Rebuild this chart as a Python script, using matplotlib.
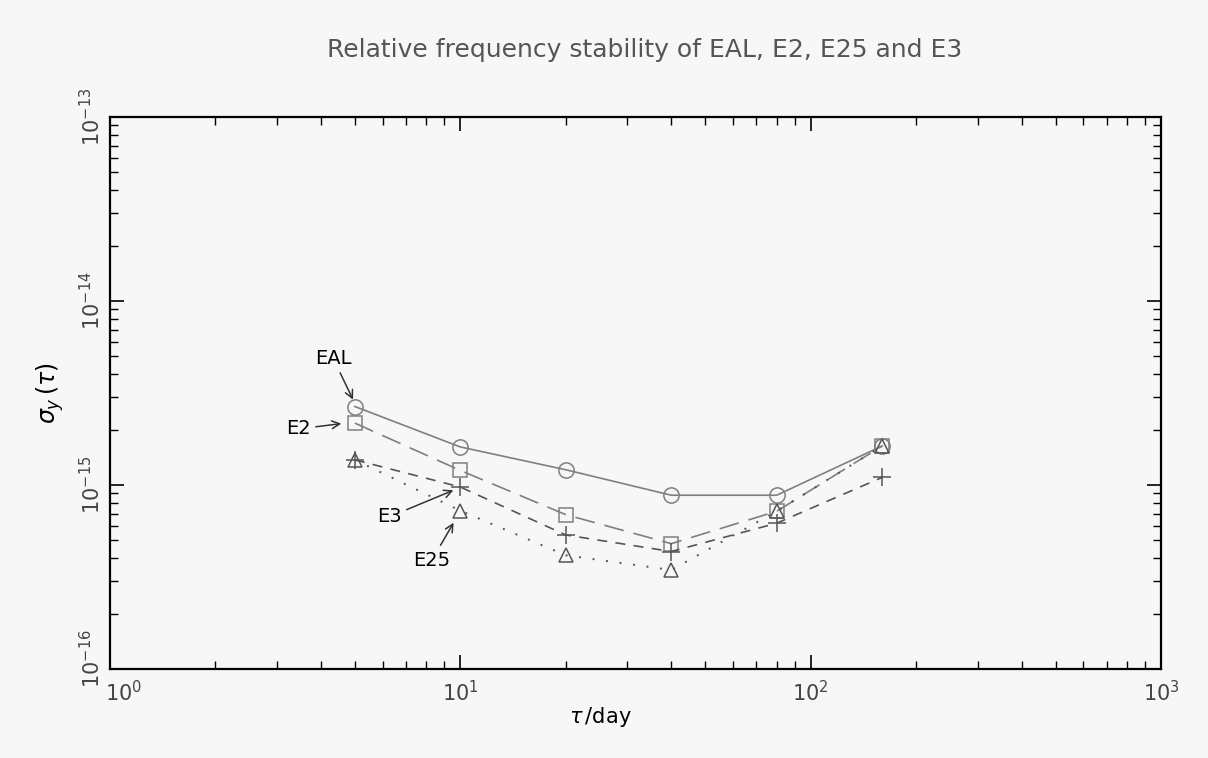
import numpy as np
import matplotlib
matplotlib.use("Agg")
import matplotlib.pyplot as plt
import matplotlib.transforms as mtrans

# averaging times (days)
tau = [5, 10, 20, 40, 80, 160]

# Allan deviation
eal = [2.67e-15, 1.61e-15, 1.21e-15, 8.8e-16, 8.8e-16, 1.63e-15]
e2 = [2.17e-15, 1.20e-15, 6.9e-16, 4.8e-16, 7.2e-16, 1.63e-15]
e3 = [1.37e-15, 9.75e-16, 5.35e-16, 4.35e-16, 6.2e-16, 1.10e-15]
e25 = [1.37e-15, 7.25e-16, 4.15e-16, 3.45e-16, 7.2e-16, 1.63e-15]

xticks = [1, 10, 100, 1000]
xtick_labels = [r"$10^{0}$", r"$10^{1}$", r"$10^{2}$", r"$10^{3}$"]
yticks = [1e-16, 1e-15, 1e-14, 1e-13]
ytick_labels = [r"$10^{-16}$", r"$10^{-15}$", r"$10^{-14}$", r"$10^{-13}$"]

gray = "#7f7f7f"
dark = "#555555"
bg = "#f7f7f7"

fig = plt.figure(figsize=(12.08, 7.58), dpi=100, facecolor=bg)
ax = fig.add_axes([110 / 1208, 1 - 669 / 758, (1161 - 110) / 1208, (669 - 117) / 758])
ax.set_facecolor(bg)

lw = 1.2
ax.plot(tau, eal, color=gray, lw=lw, ls="-", marker="o", ms=11, mfc="none", mec=gray, mew=1.1)
ax.plot(tau, e2, color=gray, lw=lw, ls=(0, (12, 6)), marker="s", ms=9.5, mfc="none", mec=gray, mew=1.1)
ax.plot(tau, e3, color=dark, lw=lw, ls=(0, (6, 5)), marker="+", ms=13, mec=dark, mew=1.1)
ax.plot(tau, e25, color=dark, lw=1.4, ls=(0, (1, 6)), marker="^", ms=10, mfc="none", mec=dark, mew=1.1)

ax.set_xscale("log")
ax.set_yscale("log")
ax.set_xlim(1, 1000)
ax.set_ylim(1e-16, 1e-13)

ax.set_xticks(xticks)
ax.set_xticklabels(xtick_labels, fontsize=15, color="#444444")
ax.set_yticks(yticks)
ax.set_yticklabels(ytick_labels, fontsize=15, color="#444444", rotation=90, va="center")
ax.tick_params(which="major", direction="in", length=10, width=1.2, top=True, right=True)
ax.tick_params(axis="x", which="major", pad=8)
ax.tick_params(axis="y", which="major", pad=4)
ax.tick_params(which="minor", direction="in", length=6, width=1.0, top=True, right=True)
for s in ax.spines.values():
    s.set_linewidth(1.6)

# the corner labels sit a little inward, as in the original
first_x = ax.get_xticklabels()[0]
first_x.set_transform(first_x.get_transform() + mtrans.ScaledTranslation(0.14, 0, fig.dpi_scale_trans))
first_y = ax.get_yticklabels()[0]
first_y.set_transform(first_y.get_transform() + mtrans.ScaledTranslation(0, 0.1, fig.dpi_scale_trans))

ax.set_xlabel(r"$\tau\,$/day", fontsize=15)
ax.xaxis.set_label_coords((600 - 110) / 1051, -0.065)
ax.set_ylabel(r"$\sigma_y\,(\tau)$", fontsize=17)
ax.yaxis.set_label_coords(-0.042, 0.5)

fig.text(645 / 1208, 1 - 50 / 758, "Relative frequency stability of EAL, E2, E25 and E3",
         ha="center", va="center", fontsize=18, color=dark)

# curve labels with arrows
arrow = dict(arrowstyle="->", color="#333333", lw=1.1, shrinkA=2, shrinkB=3)
lab = dict(textcoords="figure pixels", ha="center", va="center", fontsize=14, arrowprops=arrow)
ax.annotate("EAL", xy=(tau[0], eal[0] * 1.04), xytext=(333, 758 - 358), **lab)
ax.annotate("E2", xy=(tau[0] * 0.94, e2[0]), xytext=(298, 758 - 429), **lab)
ax.annotate("E3", xy=(tau[1] * 0.98, e3[1] * 0.98), xytext=(389, 758 - 517), **lab)
ax.annotate("E25", xy=(tau[1] * 0.97, e25[1] * 0.9), xytext=(432, 758 - 560), **lab)

fig.savefig("out.png", dpi=100, facecolor=bg)
